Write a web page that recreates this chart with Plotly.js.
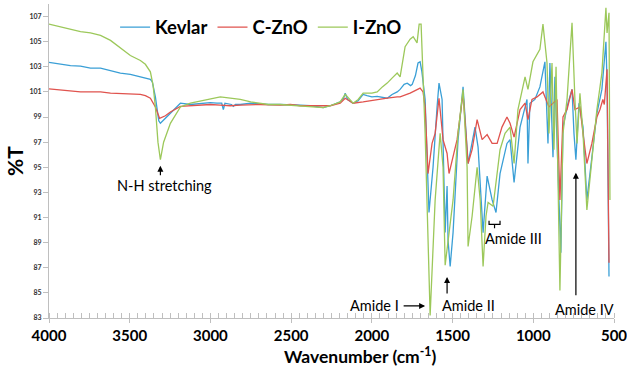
<!DOCTYPE html>
<html>
<head>
<meta charset="utf-8">
<script src="https://cdn.plot.ly/plotly-3.0.1.min.js"></script>
<style>html,body{margin:0;padding:0;background:#fff;}#chart{width:627px;height:366px;}</style>
</head>
<body>
<div id="chart"></div>
<script>
// Series names
const seriesNames = ["Kevlar", "C-ZnO", "I-ZnO"];

// Kevlar (wavenumber, %T)
const kevlarWn = [4000,3929,3867,3805,3743,3681,3619,3558,3496,3434,3372,3360,3341,3320,3310,3279,3248,3186,3124,3063,3001,2960,2930,2920,2910,2870,2858,2845,2815,2750,2691,2642,2567,2505,2443,2382,2330,2301,2258,2196,2175,2165,2150,2116,2085,2054,2030,2000,1967,1935,1905,1875,1843,1825,1800,1781,1760,1750,1730,1714,1701,1690,1670,1646,1621,1596,1584,1565,1546,1534,1528,1515,1497,1466,1435,1404,1379,1361,1342,1311,1286,1255,1231,1206,1163,1144,1119,1082,1039,1033,1021,990,959,928,909,897,878,866,841,829,816,785,760,748,736,717,692,668,637,606,575,550,543,531];
const kevlarT  = [103.36,103.2,103.1,103.05,102.9,102.9,102.7,102.5,102.4,102.2,102.0,101.8,100.6,98.7,98.5,98.9,99.3,100.1,100.0,100.1,100.15,100.1,100.1,99.6,100.1,100.0,99.85,100.0,100.0,100.1,100.05,100.0,100.0,100.0,99.95,99.9,99.8,99.75,99.9,100.2,100.5,100.9,100.4,100.1,100.3,100.8,100.7,100.6,100.65,100.6,100.5,100.8,101.0,101.2,101.6,101.7,101.5,101.6,102.3,103.3,103.4,102.6,100.4,91.4,95.0,99.8,101.7,100.4,89.8,93.5,89.2,87.1,89.8,97.2,101.4,95.3,96.9,98.2,96.6,89.8,94.3,92.4,91.4,94.5,96.9,97.2,93.8,98.2,100.4,95.3,100.1,100.4,101.4,103.4,96.9,103.3,95.8,102.2,92.4,88.2,98.2,100.1,101.2,97.7,95.6,100.1,98.2,92.4,95.8,99.3,101.2,105.0,101.7,86.3];

// C-ZnO
const czWn = [4000,3929,3867,3805,3743,3681,3619,3558,3496,3434,3403,3372,3341,3320,3315,3279,3248,3186,3124,3063,3001,2939,2877,2815,2691,2567,2505,2443,2382,2301,2258,2196,2165,2140,2116,2054,1967,1905,1843,1825,1763,1714,1701,1683,1670,1652,1627,1608,1584,1559,1534,1522,1497,1472,1435,1404,1379,1348,1317,1286,1255,1224,1194,1163,1144,1119,1082,1051,1033,1008,977,940,903,878,853,835,816,791,760,742,711,692,668,637,606,587,569,560,550,543,531];
const czT  = [101.24,101.15,101.1,101.0,101.0,101.0,100.9,100.85,100.85,100.8,100.7,100.5,99.8,99.0,98.9,99.1,99.4,99.85,99.9,99.95,100.0,99.95,99.9,99.95,100.0,99.95,100.0,99.9,99.9,99.85,99.9,100.1,100.5,100.3,100.1,100.2,100.4,100.5,100.6,100.6,100.9,101.2,101.3,101.0,99.8,94.5,96.9,97.7,100.5,97.2,96.1,94.5,95.8,97.2,100.9,95.3,96.4,98.8,97.2,97.6,96.9,96.9,98.2,99.0,98.5,97.4,99.6,100.1,98.8,100.4,100.6,101.0,99.8,100.1,100.4,92.4,99.0,99.6,101.2,99.6,99.8,97.7,95.3,96.9,99.0,99.6,100.4,100.0,101.7,102.8,87.4];

// I-ZnO
const izWn = [4000,3929,3867,3805,3743,3681,3619,3558,3496,3434,3403,3372,3355,3341,3325,3310,3290,3248,3186,3124,3019,2939,2877,2815,2750,2691,2642,2567,2505,2443,2382,2301,2258,2196,2165,2140,2116,2085,2054,2000,1967,1935,1905,1875,1843,1825,1794,1763,1744,1720,1707,1695,1670,1639,1608,1577,1559,1546,1528,1497,1466,1435,1410,1404,1379,1348,1329,1311,1293,1280,1249,1206,1175,1144,1119,1095,1051,1033,1002,959,940,915,903,884,872,859,835,816,791,760,742,729,711,692,668,637,606,575,550,543,531,525];
const izT  = [106.4,106.2,106.0,105.8,105.7,105.5,105.1,104.5,103.9,103.5,103.2,102.6,101.5,99.8,97.0,95.6,97.0,98.5,99.8,100.1,100.4,100.6,100.5,100.4,100.2,100.1,100.0,100.0,99.95,99.9,99.85,99.75,99.9,100.2,100.8,100.4,100.1,100.4,100.9,100.9,101.0,101.4,101.7,102.1,102.5,102.2,104.6,105.2,105.4,104.9,106.4,106.4,97.7,83.2,92.4,97.7,95.0,87.2,89.2,92.4,97.7,101.2,95.0,88.7,91.1,95.0,92.4,87.1,91.1,92.2,91.9,96.4,97.7,98.2,95.3,99.6,102.2,101.2,103.4,104.4,106.4,103.3,97.7,103.3,96.4,103.0,85.2,97.7,100.4,106.5,100.4,96.9,100.9,97.7,91.6,95.6,99.6,102.5,107.7,105.7,107.3,92.4];

// Axis tick labels
const yTicks = [83,85,87,89,91,93,95,97,99,101,103,105,107];
const xTicks = [4000,3500,3000,2500,2000,1500,1000,500];

const colors = ["#3a9fd6", "#e0534e", "#9cc85a"];
const font = "Lato, 'Open Sans', sans-serif";

const traces = [
  {x: kevlarWn, y: kevlarT, name: seriesNames[0]},
  {x: czWn, y: czT, name: seriesNames[1]},
  {x: izWn, y: izT, name: seriesNames[2]}
].map((t, i) => Object.assign(t, {type: "scatter", mode: "lines", line: {color: colors[i], width: 1.3}}));

const arrow = (x, y, ax, ay) => ({x, y, xref: "x", yref: "y", text: "", showarrow: true, arrowhead: 2, arrowsize: 1, arrowwidth: 1.2, arrowcolor: "#000", ax, ay});
const label = (x, y, text) => ({x, y, xref: "x", yref: "y", text, showarrow: false, font: {family: font, size: 14.5, color: "#000"}});

const layout = {
  width: 627, height: 366,
  margin: {l: 49, r: 13, t: 4, b: 48},
  paper_bgcolor: "#fff", plot_bgcolor: "#fff",
  font: {family: font, color: "#000"},
  showlegend: true,
  legend: {orientation: "h", x: 0.117, y: 0.925, xanchor: "left", yanchor: "middle",
           font: {family: font, size: 18.5, weight: "bold", color: "#000"}, bgcolor: "rgba(0,0,0,0)",
           itemwidth: 30, tracegroupgap: 0},
  xaxis: {range: [4000, 500], tickvals: xTicks, ticktext: xTicks.map(String),
          showline: true, linecolor: "#bfbfbf", linewidth: 1, showgrid: false, zeroline: false,
          ticks: "outside", ticklen: 4, tickcolor: "#bfbfbf", ticklabeloverflow: "allow", ticklabelstandoff: 0,
          minor: {dtick: 50, ticks: "inside", ticklen: 5, tickcolor: "#bfbfbf", showgrid: false},
          tickfont: {family: font, size: 15, weight: "bold", color: "#000"}},
  yaxis: {range: [83, 108], tickvals: yTicks, ticktext: yTicks.map(String),
          showline: true, linecolor: "#bfbfbf", linewidth: 1, showgrid: false, zeroline: false,
          ticks: "outside", ticklen: 5, tickcolor: "#bfbfbf",
          tickfont: {family: font, size: 7, weight: "bold", color: "#333"},
          title: {text: "%T", standoff: 0, font: {family: font, size: 21, weight: "bold", color: "#000"}}},
  annotations: [
    {xref: "paper", yref: "paper", x: 0.55, y: -0.121, xanchor: "center", yanchor: "middle",
     text: "Wavenumber (cm<sup>-1</sup>)", showarrow: false,
     font: {family: font, size: 17.5, weight: "bold", color: "#000"}},
    arrow(3310, 95.12, 0, 11),
    label(3285, 93.53, "N-H stretching"),
    arrow(1670, 83.96, -23, 0),
    label(1986, 83.96, "Amide I"),
    arrow(1534, 86.27, 0, 18),
    label(1404, 83.96, "Amide II"),
    label(1120, 89.3, "Amide III"),
    arrow(736, 94.56, 0, 124),
    label(680, 83.7, "Amide IV")
  ],
  shapes: [
    {type: "path", xref: "x", yref: "y", path: "M1274,90.75 L1274,90.45 L1206,90.45 L1206,90.75 M1240,90.45 L1240,90.15",
     line: {color: "#000", width: 1.2}}
  ]
};

Plotly.newPlot("chart", traces, layout, {displayModeBar: false, staticPlot: true});
</script>
</body>
</html>
